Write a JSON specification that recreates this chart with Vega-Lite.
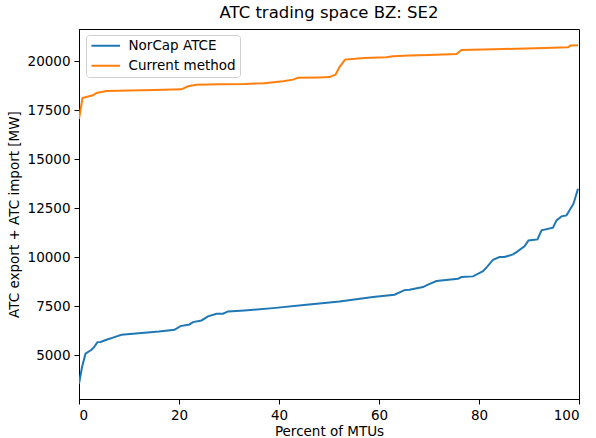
{
  "$schema": "https://vega.github.io/schema/vega-lite/v6.json",
  "autosize": {"type": "none"},
  "padding": {"left": 79, "top": 29, "right": 17, "bottom": 39},
  "width": 500,
  "height": 370,
  "background": "white",
  "title": {"text": "ATC trading space BZ: SE2", "font": "DejaVu Sans", "fontSize": 16.5, "fontWeight": "normal", "color": "#000", "anchor": "middle", "offset": 8},
  "config": {
    "view": {"stroke": "#000", "strokeWidth": 1},
    "axis": {"labelFont": "DejaVu Sans", "titleFont": "DejaVu Sans", "labelFontSize": 13.5, "titleFontSize": 13.5, "titleFontWeight": "normal", "labelColor": "#000", "titleColor": "#000", "domainColor": "#000", "tickColor": "#000", "tickSize": 5, "grid": false, "labelPadding": 4, "format": "d"}
  },
  "data": {"values": [
    {"pct": 0, "value": 3560, "series": "NorCap ATCE"},
    {"pct": 0.1, "value": 3700, "series": "NorCap ATCE"},
    {"pct": 0.6, "value": 4400, "series": "NorCap ATCE"},
    {"pct": 1.3, "value": 5087, "series": "NorCap ATCE"},
    {"pct": 2.5, "value": 5290, "series": "NorCap ATCE"},
    {"pct": 3.0, "value": 5424, "series": "NorCap ATCE"},
    {"pct": 3.7, "value": 5680, "series": "NorCap ATCE"},
    {"pct": 4.3, "value": 5690, "series": "NorCap ATCE"},
    {"pct": 5.5, "value": 5800, "series": "NorCap ATCE"},
    {"pct": 7.1, "value": 5935, "series": "NorCap ATCE"},
    {"pct": 8.5, "value": 6055, "series": "NorCap ATCE"},
    {"pct": 12.5, "value": 6140, "series": "NorCap ATCE"},
    {"pct": 16, "value": 6220, "series": "NorCap ATCE"},
    {"pct": 19.1, "value": 6310, "series": "NorCap ATCE"},
    {"pct": 20.3, "value": 6495, "series": "NorCap ATCE"},
    {"pct": 22.1, "value": 6580, "series": "NorCap ATCE"},
    {"pct": 22.8, "value": 6700, "series": "NorCap ATCE"},
    {"pct": 24.5, "value": 6785, "series": "NorCap ATCE"},
    {"pct": 25.8, "value": 6990, "series": "NorCap ATCE"},
    {"pct": 27.5, "value": 7125, "series": "NorCap ATCE"},
    {"pct": 28.8, "value": 7125, "series": "NorCap ATCE"},
    {"pct": 29.8, "value": 7245, "series": "NorCap ATCE"},
    {"pct": 33.1, "value": 7295, "series": "NorCap ATCE"},
    {"pct": 38.8, "value": 7412, "series": "NorCap ATCE"},
    {"pct": 45.5, "value": 7585, "series": "NorCap ATCE"},
    {"pct": 52.1, "value": 7754, "series": "NorCap ATCE"},
    {"pct": 58.8, "value": 7975, "series": "NorCap ATCE"},
    {"pct": 63.1, "value": 8095, "series": "NorCap ATCE"},
    {"pct": 65.1, "value": 8330, "series": "NorCap ATCE"},
    {"pct": 66.1, "value": 8350, "series": "NorCap ATCE"},
    {"pct": 68.8, "value": 8485, "series": "NorCap ATCE"},
    {"pct": 69.8, "value": 8606, "series": "NorCap ATCE"},
    {"pct": 71.5, "value": 8790, "series": "NorCap ATCE"},
    {"pct": 75.8, "value": 8912, "series": "NorCap ATCE"},
    {"pct": 76.5, "value": 8995, "series": "NorCap ATCE"},
    {"pct": 78.8, "value": 9030, "series": "NorCap ATCE"},
    {"pct": 80.8, "value": 9300, "series": "NorCap ATCE"},
    {"pct": 81.7, "value": 9540, "series": "NorCap ATCE"},
    {"pct": 82.8, "value": 9880, "series": "NorCap ATCE"},
    {"pct": 84.1, "value": 10015, "series": "NorCap ATCE"},
    {"pct": 85.1, "value": 10015, "series": "NorCap ATCE"},
    {"pct": 86.8, "value": 10150, "series": "NorCap ATCE"},
    {"pct": 87.5, "value": 10270, "series": "NorCap ATCE"},
    {"pct": 89.1, "value": 10560, "series": "NorCap ATCE"},
    {"pct": 89.9, "value": 10865, "series": "NorCap ATCE"},
    {"pct": 91.7, "value": 10915, "series": "NorCap ATCE"},
    {"pct": 92.5, "value": 11375, "series": "NorCap ATCE"},
    {"pct": 94.8, "value": 11510, "series": "NorCap ATCE"},
    {"pct": 95.5, "value": 11885, "series": "NorCap ATCE"},
    {"pct": 96.5, "value": 12090, "series": "NorCap ATCE"},
    {"pct": 97.5, "value": 12140, "series": "NorCap ATCE"},
    {"pct": 98.9, "value": 12735, "series": "NorCap ATCE"},
    {"pct": 99.8, "value": 13500, "series": "NorCap ATCE"},
    {"pct": 0, "value": 17050, "series": "Current method"},
    {"pct": 0.7, "value": 18120, "series": "Current method"},
    {"pct": 1.8, "value": 18200, "series": "Current method"},
    {"pct": 2.8, "value": 18260, "series": "Current method"},
    {"pct": 3.5, "value": 18380, "series": "Current method"},
    {"pct": 5.5, "value": 18480, "series": "Current method"},
    {"pct": 10, "value": 18510, "series": "Current method"},
    {"pct": 15, "value": 18530, "series": "Current method"},
    {"pct": 20.5, "value": 18566, "series": "Current method"},
    {"pct": 21.8, "value": 18720, "series": "Current method"},
    {"pct": 23.5, "value": 18800, "series": "Current method"},
    {"pct": 28, "value": 18830, "series": "Current method"},
    {"pct": 33.1, "value": 18840, "series": "Current method"},
    {"pct": 37, "value": 18880, "series": "Current method"},
    {"pct": 40.8, "value": 18974, "series": "Current method"},
    {"pct": 42.8, "value": 19060, "series": "Current method"},
    {"pct": 43.8, "value": 19150, "series": "Current method"},
    {"pct": 48, "value": 19170, "series": "Current method"},
    {"pct": 50.1, "value": 19190, "series": "Current method"},
    {"pct": 51.3, "value": 19310, "series": "Current method"},
    {"pct": 52.1, "value": 19700, "series": "Current method"},
    {"pct": 53.2, "value": 20080, "series": "Current method"},
    {"pct": 57, "value": 20160, "series": "Current method"},
    {"pct": 61.5, "value": 20200, "series": "Current method"},
    {"pct": 62.8, "value": 20250, "series": "Current method"},
    {"pct": 66.1, "value": 20285, "series": "Current method"},
    {"pct": 70, "value": 20310, "series": "Current method"},
    {"pct": 75.5, "value": 20370, "series": "Current method"},
    {"pct": 76.5, "value": 20570, "series": "Current method"},
    {"pct": 85, "value": 20620, "series": "Current method"},
    {"pct": 93.1, "value": 20670, "series": "Current method"},
    {"pct": 97.8, "value": 20710, "series": "Current method"},
    {"pct": 98.3, "value": 20795, "series": "Current method"},
    {"pct": 99.8, "value": 20810, "series": "Current method"}
  ]},
  "mark": {"type": "line", "strokeWidth": 2, "clip": true},
  "encoding": {
    "x": {"field": "pct", "type": "quantitative", "title": "Percent of MTUs",
      "scale": {"domain": [0, 100], "nice": false, "zero": false},
      "axis": {"values": [0, 20, 40, 60, 80, 100], "titlePadding": 3}},
    "y": {"field": "value", "type": "quantitative", "title": "ATC export + ATC import [MW]",
      "scale": {"domain": [2780, 21640], "nice": false, "zero": false},
      "axis": {"values": [5000, 7500, 10000, 12500, 15000, 17500, 20000], "titlePadding": 6}},
    "color": {"field": "series", "type": "nominal",
      "scale": {"domain": ["NorCap ATCE", "Current method"], "range": ["#1f77b4", "#ff7f0e"]},
      "legend": {"title": null, "orient": "none", "legendX": 7, "legendY": 6, "symbolType": "M-3,0H3", "symbolSize": 91, "symbolStrokeWidth": 2, "symbolOffset": 9, "labelFont": "DejaVu Sans", "labelFontSize": 13.5, "labelColor": "#000", "labelOffset": 16, "rowPadding": 5, "padding": 4, "strokeColor": "#d0d0d0", "fillColor": "white", "cornerRadius": 3}},
    "order": {"field": "pct", "type": "quantitative"}
  }
}
